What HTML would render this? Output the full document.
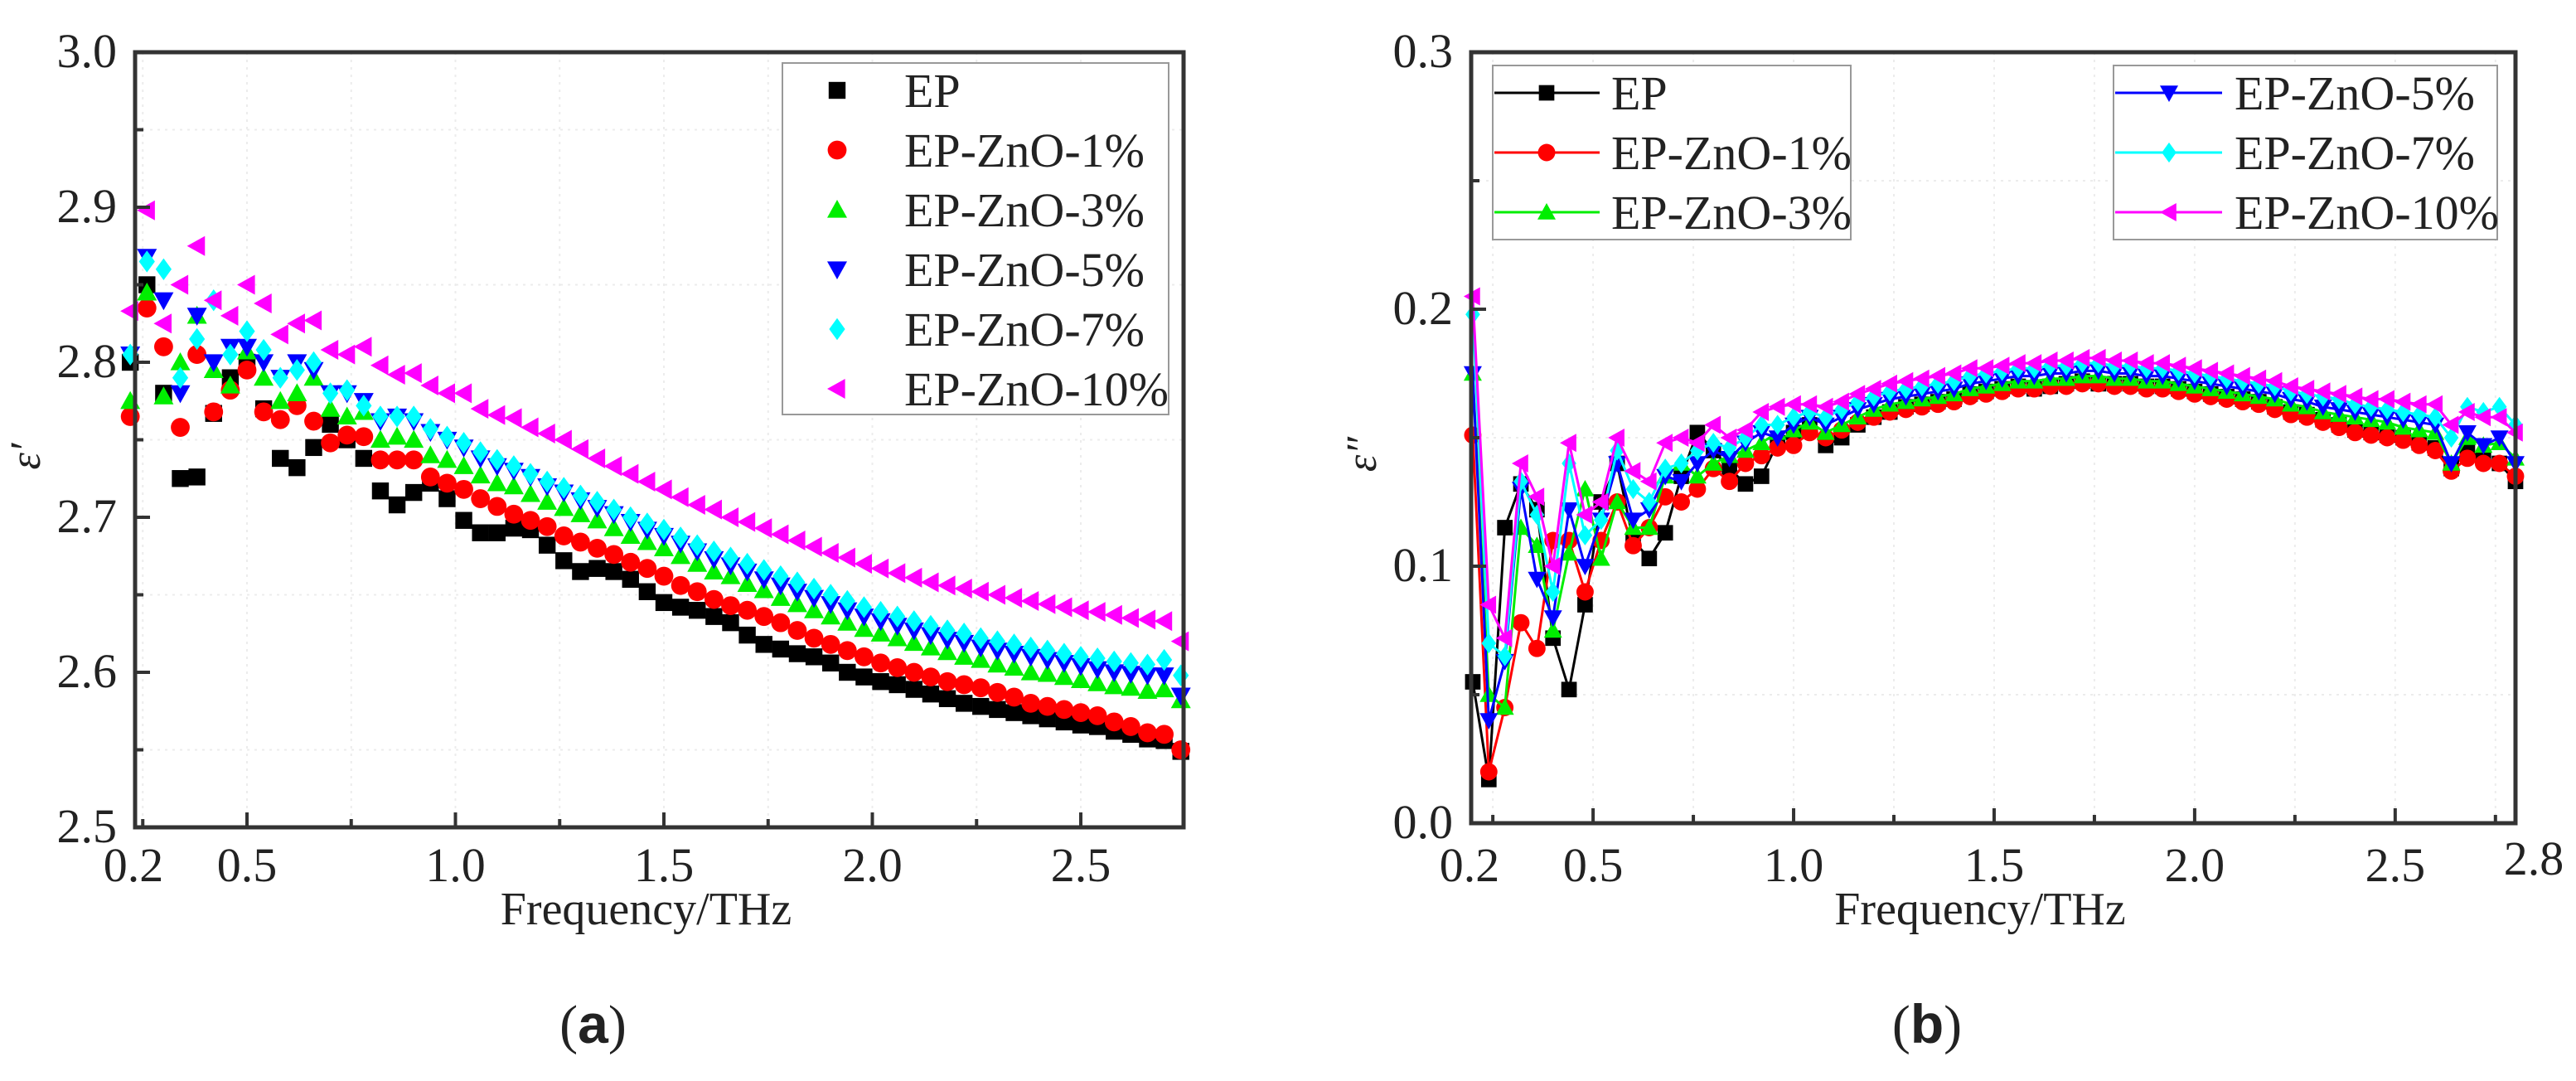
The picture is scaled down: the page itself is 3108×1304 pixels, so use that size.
<!DOCTYPE html>
<html><head><meta charset="utf-8">
<style>
html,body{margin:0;padding:0;background:#fff;}
svg{display:block;}
svg text{font-family:"Liberation Serif","DejaVu Serif",serif;fill:#222;}
</style></head>
<body>
<svg id="fig" width="3108" height="1304" viewBox="0 0 3108 1304" xmlns="http://www.w3.org/2000/svg" font-family="Liberation Serif, DejaVu Serif, serif"></svg>
<script>
// ---------- data: panel (a) real permittivity ----------
const freqA = [0.22,0.26,0.30,0.34,0.38,0.42,0.46,0.50,0.54,0.58,0.62,0.66,0.70,0.74,0.78,0.82,0.86,0.90,0.94,0.98,1.02,1.06,1.10,1.14,1.18,1.22,1.26,1.30,1.34,1.38,1.42,1.46,1.50,1.54,1.58,1.62,1.66,1.70,1.74,1.78,1.82,1.86,1.90,1.94,1.98,2.02,2.06,2.10,2.14,2.18,2.22,2.26,2.30,2.34,2.38,2.42,2.46,2.50,2.54,2.58,2.62,2.66,2.70,2.74];
const aEP = [2.80,2.85,2.78,2.725,2.726,2.767,2.79,2.80,2.77,2.738,2.732,2.745,2.76,2.75,2.738,2.717,2.708,2.716,2.722,2.712,2.698,2.69,2.69,2.693,2.692,2.682,2.672,2.665,2.667,2.665,2.66,2.652,2.645,2.642,2.64,2.636,2.632,2.624,2.618,2.615,2.612,2.61,2.606,2.60,2.597,2.594,2.592,2.589,2.586,2.583,2.58,2.578,2.576,2.574,2.572,2.57,2.568,2.566,2.565,2.562,2.56,2.557,2.556,2.549];
const aZ1 = [2.765,2.835,2.81,2.758,2.805,2.768,2.782,2.795,2.768,2.763,2.772,2.762,2.748,2.753,2.752,2.737,2.737,2.737,2.726,2.722,2.718,2.712,2.707,2.702,2.698,2.694,2.688,2.684,2.68,2.676,2.671,2.667,2.662,2.656,2.652,2.647,2.643,2.64,2.636,2.632,2.627,2.622,2.618,2.614,2.61,2.606,2.603,2.60,2.597,2.594,2.592,2.59,2.587,2.584,2.58,2.578,2.576,2.574,2.572,2.568,2.565,2.561,2.56,2.55];
const aZ3 = [2.775,2.845,2.778,2.80,2.83,2.795,2.785,2.807,2.79,2.775,2.78,2.79,2.77,2.765,2.768,2.75,2.752,2.75,2.74,2.737,2.733,2.727,2.722,2.72,2.715,2.71,2.706,2.702,2.698,2.693,2.688,2.684,2.68,2.675,2.67,2.665,2.662,2.657,2.653,2.648,2.644,2.64,2.636,2.632,2.628,2.625,2.622,2.619,2.616,2.613,2.61,2.608,2.605,2.603,2.60,2.599,2.597,2.595,2.593,2.591,2.59,2.588,2.589,2.582];
const aZ5 = [2.805,2.868,2.84,2.78,2.83,2.80,2.81,2.81,2.80,2.79,2.80,2.795,2.78,2.78,2.775,2.762,2.765,2.762,2.755,2.75,2.745,2.738,2.733,2.73,2.726,2.72,2.716,2.711,2.706,2.702,2.697,2.692,2.688,2.683,2.678,2.673,2.669,2.665,2.66,2.656,2.652,2.648,2.644,2.64,2.636,2.633,2.63,2.627,2.624,2.621,2.619,2.616,2.614,2.612,2.61,2.608,2.606,2.604,2.602,2.60,2.599,2.598,2.598,2.585];
const aZ7 = [2.805,2.865,2.86,2.79,2.815,2.84,2.805,2.82,2.808,2.79,2.795,2.80,2.78,2.782,2.772,2.765,2.765,2.765,2.757,2.752,2.748,2.742,2.737,2.733,2.728,2.723,2.719,2.714,2.71,2.705,2.70,2.696,2.692,2.687,2.682,2.678,2.674,2.67,2.666,2.662,2.658,2.654,2.65,2.646,2.642,2.639,2.636,2.633,2.63,2.627,2.625,2.622,2.62,2.618,2.616,2.614,2.612,2.61,2.609,2.607,2.606,2.605,2.608,2.598];
const aZ10 = [2.833,2.898,2.825,2.85,2.875,2.84,2.83,2.85,2.838,2.818,2.825,2.827,2.808,2.805,2.81,2.798,2.792,2.793,2.785,2.78,2.78,2.77,2.766,2.764,2.758,2.754,2.75,2.744,2.738,2.733,2.728,2.723,2.718,2.713,2.708,2.705,2.70,2.697,2.693,2.689,2.685,2.681,2.677,2.674,2.67,2.667,2.664,2.661,2.658,2.656,2.654,2.652,2.65,2.648,2.646,2.644,2.642,2.64,2.639,2.637,2.635,2.634,2.633,2.62];
const yTicksA = [2.5,2.6,2.7,2.8,2.9,3.0];
const yTickLabelsA = ["2.5","2.6","2.7","2.8","2.9","3.0"];
const xTicks = [0.5,1.0,1.5,2.0,2.5];
const xTickLabels = ["0.5","1.0","1.5","2.0","2.5"];

// ---------- data: panel (b) imaginary permittivity ----------
const freqB = [0.20,0.24,0.28,0.32,0.36,0.40,0.44,0.48,0.52,0.56,0.60,0.64,0.68,0.72,0.76,0.80,0.84,0.88,0.92,0.96,1.00,1.04,1.08,1.12,1.16,1.20,1.24,1.28,1.32,1.36,1.40,1.44,1.48,1.52,1.56,1.60,1.64,1.68,1.72,1.76,1.80,1.84,1.88,1.92,1.96,2.00,2.04,2.08,2.12,2.16,2.20,2.24,2.28,2.32,2.36,2.40,2.44,2.48,2.52,2.56,2.60,2.64,2.68,2.72,2.76,2.80];
const bEP = [0.055,0.017,0.115,0.132,0.122,0.072,0.052,0.085,0.125,0.14,0.11,0.103,0.113,0.135,0.152,0.145,0.138,0.132,0.135,0.148,0.152,.155,.147,.150,.155,.158,.160,.162,.163,.164,.165,.167,.168,.169,.170,.169,.170,.171,.172,.171,.171,.171,.170,.170,.169,.168,.167,.166,.165,.164,.162,.160,.159,.157,.155,.153,.152,.151,.150,.148,.146,.138,.145,.142,.140,.133];
const bZ1 = [0.151,0.02,0.045,0.078,0.068,0.11,0.11,0.09,0.11,0.125,0.108,0.115,0.127,0.125,0.13,0.138,0.133,0.14,0.143,0.146,0.147,.152,.150,.153,.156,.158,.160,.161,.162,.163,.164,.166,.167,.168,.169,.169,.170,.170,.171,.171,.170,.170,.169,.169,.168,.167,.166,.165,.164,.163,.161,.159,.158,.156,.154,.152,.151,.150,.149,.147,.145,.137,.142,.140,.140,.135];
const bZ3 = [0.175,0.05,0.045,0.115,0.108,0.075,0.105,0.13,0.103,0.125,0.115,0.115,0.135,0.14,0.135,0.14,0.143,0.145,0.148,0.152,0.153,.156,.152,.155,.158,.161,.163,.164,.165,.166,.167,.169,.170,.171,.172,.172,.173,.173,.174,.174,.173,.173,.172,.172,.171,.170,.169,.168,.167,.166,.165,.163,.162,.160,.159,.158,.157,.156,.154,.153,.152,.140,.150,.147,.148,.142];
const bZ5 = [0.175,0.04,0.063,0.13,0.095,0.08,0.122,0.10,0.118,0.14,0.118,0.122,0.135,0.133,0.14,0.145,0.142,0.148,0.152,0.15,0.155,.158,.155,.158,.161,.163,.165,.166,.167,.168,.169,.171,.172,.173,.174,.174,.175,.175,.176,.176,.175,.175,.174,.174,.173,.172,.171,.170,.169,.168,.167,.165,.164,.162,.161,.160,.159,.158,.157,.156,.155,.140,.152,.147,.150,.140];
const bZ7 = [0.198,0.07,0.065,0.133,0.12,0.09,0.14,0.112,0.118,0.145,0.13,0.125,0.138,0.14,0.145,0.148,0.146,0.15,0.155,0.155,0.158,.160,.158,.161,.164,.166,.168,.169,.170,.171,.172,.174,.175,.176,.177,.177,.178,.178,.179,.179,.178,.178,.177,.177,.176,.175,.174,.173,.172,.171,.170,.168,.167,.166,.165,.163,.162,.161,.160,.159,.158,.150,.162,.160,.162,.155];
const bZ10 = [0.205,0.085,0.072,0.14,0.127,0.10,0.148,0.12,0.125,0.15,0.137,0.133,0.148,0.15,0.148,0.155,0.15,0.153,0.16,0.162,0.163,.163,.162,.164,.167,.169,.171,.172,.173,.174,.175,.177,.177,.178,.179,.179,.180,.180,.181,.181,.180,.180,.179,.179,.178,.177,.176,.175,.174,.173,.172,.170,.169,.168,.167,.166,.165,.165,.164,.163,.163,.155,.160,.158,.158,.152];
const yTicksB = [0.0,0.1,0.2,0.3];
const yTickLabelsB = ["0.0","0.1","0.2","0.3"];
const xTicksB = [0.5,1.0,1.5,2.0,2.5];
const xTickLabelsB = ["0.5","1.0","1.5","2.0","2.5"];

const seriesNames = ["EP","EP-ZnO-1%","EP-ZnO-3%","EP-ZnO-5%","EP-ZnO-7%","EP-ZnO-10%"];
const seriesColors = ["#000000","#ff0000","#00ee00","#0000ff","#00ffff","#ff00ff"];
const seriesShapes = ["square","circle","up","down","diamond","left"];

const NS = "http://www.w3.org/2000/svg";
const SERIF = "Liberation Serif, DejaVu Serif, serif";
const fig = document.getElementById('fig');
function mk(tag, attrs, parent){
  const e = document.createElementNS(NS, tag);
  if (tag==='text') e.setAttribute('font-family', SERIF);
  for (const k in attrs) e.setAttribute(k, attrs[k]);
  (parent||fig).appendChild(e);
  return e;
}
function marker(shape, cx, cy, s, color, parent){
  let e;
  const h = s/2;
  if (shape==="square") e = mk('rect',{x:cx-h*0.85,y:cy-h*0.85,width:s*0.85,height:s*0.85,fill:color},parent);
  else if (shape==="circle") e = mk('circle',{cx:cx,cy:cy,r:h*0.95,fill:color},parent);
  else if (shape==="up") e = mk('polygon',{points:`${cx},${cy-h} ${cx+h},${cy+h*0.8} ${cx-h},${cy+h*0.8}`,fill:color},parent);
  else if (shape==="down") e = mk('polygon',{points:`${cx},${cy+h} ${cx+h},${cy-h*0.8} ${cx-h},${cy-h*0.8}`,fill:color},parent);
  else if (shape==="diamond") e = mk('polygon',{points:`${cx},${cy-h*1.1} ${cx+h*0.8},${cy} ${cx},${cy+h*1.1} ${cx-h*0.8},${cy}`,fill:color},parent);
  else e = mk('polygon',{points:`${cx-h},${cy} ${cx+h*0.8},${cy-h} ${cx+h*0.8},${cy+h}`,fill:color},parent);
  return e;
}

function panel(cfg){
  const {L,R,T,B,x0,x1,y0,y1} = cfg;
  const sx = v => L + (v-x0)/(x1-x0)*(R-L);
  const sy = v => B - (v-y0)/(y1-y0)*(B-T);
  const g = mk('g',{});
  
  
  const grid = mk('g',{stroke:'#ececec','stroke-width':2,'stroke-dasharray':'3,6'},g);
  
  
  for (let v=x0; v<=x1; v+=0.25){ const vv=Math.ceil(v*4)/4; if(vv>x0&&vv<x1) mk('line',{x1:sx(vv),x2:sx(vv),y1:T,y2:B},grid); }
  const ys = cfg.yTicks;
  for (let i=0;i<ys.length-1;i++){ const m=(ys[i]+ys[i+1])/2; mk('line',{x1:L,x2:R,y1:sy(m),y2:sy(m)},grid); }
  cfg.series.forEach((vals,si)=>{
    const sg = mk('g',{},g);
    
    
    const n = Math.min(vals.length, cfg.freq.length);
    if (cfg.lines){
      let d='';
      for (let i=0;i<n;i++) d += (i?'L':'M') + sx(cfg.freq[i]).toFixed(1)+','+sy(vals[i]).toFixed(1);
      const p = mk('path',{d:d,fill:'none',stroke:seriesColors[si],'stroke-width':3},sg);
      
      
    }
    for (let i=0;i<n;i++){
      const m = marker(seriesShapes[si], sx(cfg.freq[i]), sy(vals[i]), cfg.ms, seriesColors[si], sg);
      
      
    }
  });
  const fr = mk('rect',{x:L,y:T,width:R-L,height:B-T,fill:'none',stroke:'#333','stroke-width':5},g);
  
  
  const xt = mk('g',{},g);
  
  
  for (let v=0.25; v<x1; v+=0.25){
    if (v<=x0) continue;
    const major = Math.abs(v*2-Math.round(v*2))<1e-6;
    mk('line',{x1:sx(v),x2:sx(v),y1:B,y2:B-(major?18:10),stroke:'#333','stroke-width':4},xt);
  }
  cfg.xTicks.forEach((v,i)=>{
    const t = mk('text',{x:sx(v),y:1063,'font-size':58,'text-anchor':'middle'},xt);
    t.textContent = cfg.xLabels[i];
    
    
  });
  const t02 = mk('text',{x:L-2,y:1063,'font-size':58,'text-anchor':'middle'},xt);
  t02.textContent = '0.2';
  
  
  if (cfg.endLabel){
    const te = mk('text',{x:R+22,y:1055,'font-size':58,'text-anchor':'middle'},xt);
    te.textContent = cfg.endLabel;
    
    
  }
  const xtitle = mk('text',{x:(L+R)/2-16,y:1115,'font-size':56,'text-anchor':'middle'},g);
  xtitle.textContent = 'Frequency/THz';
  
  
  const yt = mk('g',{},g);
  
  
  ys.forEach((v,i)=>{
    mk('line',{x1:L,x2:L+18,y1:sy(v),y2:sy(v),stroke:'#333','stroke-width':4},yt);
    if (i<ys.length-1){ const m=(v+ys[i+1])/2; mk('line',{x1:L,x2:L+10,y1:sy(m),y2:sy(m),stroke:'#333','stroke-width':4},yt); }
    const t = mk('text',{x:L-22,y:sy(v)+18,'font-size':58,'text-anchor':'end'},yt);
    t.textContent = cfg.yLabels[i];
    
    
  });
  const ytl = mk('text',{x:0,y:0,'font-size':52,'font-style':'italic','text-anchor':'middle',transform:`translate(${cfg.ytX},${(T+B)/2+20}) rotate(-90)`},g);
  ytl.textContent = cfg.yTitle;
  
  
  const pl = mk('text',{x:(L+R)/2-80,y:1258,'font-size':66,'text-anchor':'middle'},g);
  pl.innerHTML = '(<tspan font-weight="bold" font-family="Liberation Sans, sans-serif">'+cfg.panelLetter+'</tspan>)';
  
  
  return {sx,sy,g};
}

const pa = panel({name:'chart-a',L:163,R:1428,T:63,B:998,x0:0.5-135/503,x1:0.5+1130/503,y0:2.5,y1:3.0,
  freq:freqA,series:[aEP,aZ1,aZ3,aZ5,aZ7,aZ10],lines:false,ms:24,yTicks:yTicksA,yLabels:yTickLabelsA,
  xTicks:xTicks,xLabels:xTickLabels,yTitle:'ε′',ytX:48,panelLetter:'a'});
const pb = panel({name:'chart-b',L:1775,R:3035,T:63,B:993,x0:0.196,x1:2.8,y0:0,y1:0.3,
  freq:freqB,series:[bEP,bZ1,bZ3,bZ5,bZ7,bZ10],lines:true,ms:22,yTicks:yTicksB,yLabels:yTickLabelsB,
  xTicks:xTicksB,xLabels:xTickLabelsB,yTitle:'ε″',ytX:1660,panelLetter:'b',endLabel:'2.8'});

function legend(x,y,w,h,rows,withLine,parent,name){
  const lg = mk('g',{},parent);
  
  
  const r = mk('rect',{x:x,y:y,width:w,height:h,fill:'#fff',stroke:'#999','stroke-width':2},lg);
  
  
  rows.forEach(row=>{
    const e = mk('g',{},lg);
    
    
    if (withLine) mk('line',{x1:row.lx1,x2:row.lx2,y1:row.y,y2:row.y,stroke:seriesColors[row.i],'stroke-width':3},e);
    marker(seriesShapes[row.i], row.mx, row.y, withLine?22:24, seriesColors[row.i], e);
    const t = mk('text',{x:row.tx,y:row.y+20,'font-size':58},e);
    t.textContent = seriesNames[row.i];
  });
}
legend(944,76,466,424,[0,1,2,3,4,5].map((i,k)=>({i:i,y:109+k*72,mx:1010,tx:1091})),false,pa.g,'legend-a');
legend(1801,79,432,210,[0,1,2].map((i,k)=>({i:i,y:112+k*72,lx1:1803,lx2:1930,mx:1866,tx:1944})),true,pb.g,'legend-b-left');
legend(2550,79,463,210,[3,4,5].map((i,k)=>({i:i,y:112+k*72,lx1:2552,lx2:2681,mx:2617,tx:2696})),true,pb.g,'legend-b-right');
</script>
</body></html>
